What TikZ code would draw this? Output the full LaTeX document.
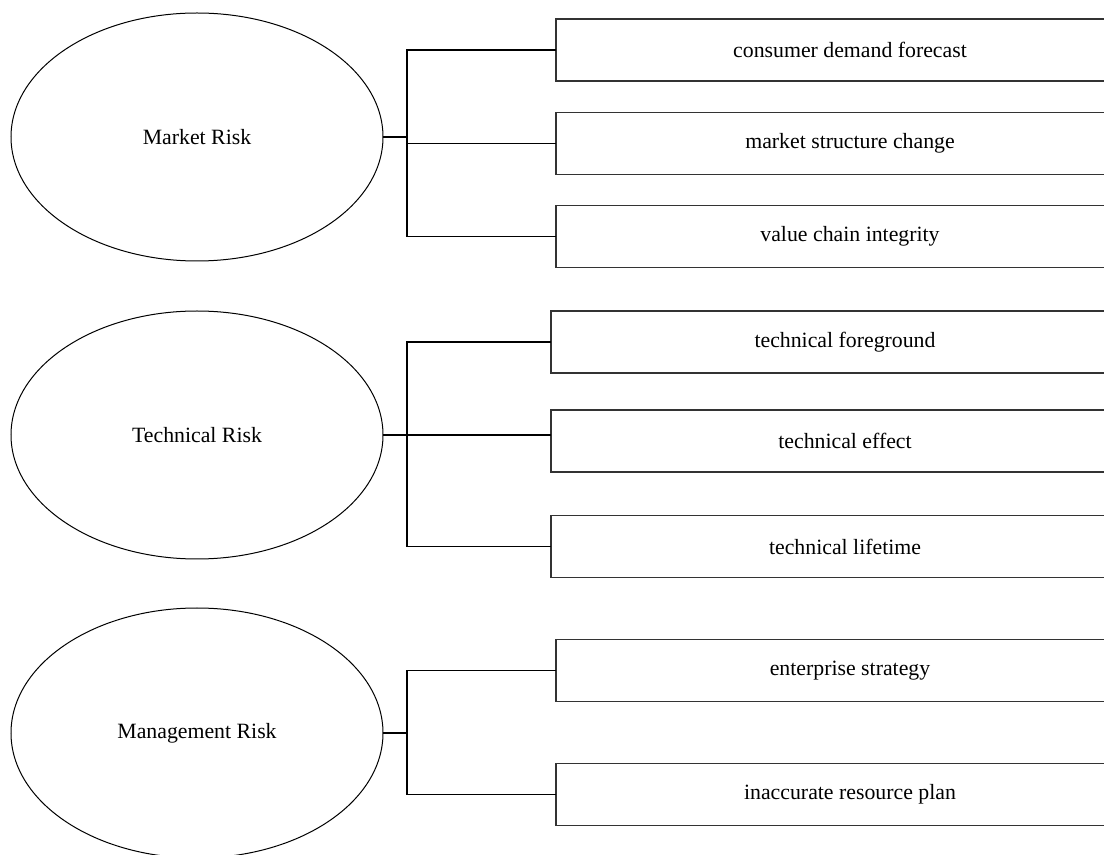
\documentclass[tikz,border=0pt]{standalone}
\usepackage{fontspec}
\setmainfont{Liberation Serif}
\usetikzlibrary{shapes.geometric}

\begin{document}
\begin{tikzpicture}[x=0.5pt,y=-0.5pt,
     risk/.style={draw,ellipse,line width=0.5pt,inner sep=0pt,outer sep=0pt,
       minimum width=186pt,minimum height=124pt,
       font=\fontsize{10.9}{13}\selectfont},
     item/.style={draw=black!80,line width=0.75pt,inner sep=0pt,outer sep=0pt,
       minimum width=294pt,minimum height=31pt,
       font=\fontsize{10.9}{13}\selectfont},
     link/.style={line width=0.75pt}]
    \clip (0,0) rectangle (1104,855);
    % market risk
    \node[risk] (mk) at (197,137) {Market Risk};
    \node[item] (mk1) at (850,50) {consumer demand forecast};
    \node[item] (mk2) at (850,143.5) {market structure change};
    \node[item] (mk3) at (850,236.5) {value chain integrity};
    \coordinate (mkj) at (407,137);
    \draw[link] (mk.east) -- (mkj);
    \draw[link] (mkj) |- (mk1.west);
    \draw[link] (mkj) |- (mk2.west);
    \draw[link] (mkj) |- (mk3.west);
    % technical risk
    \node[risk] (tk) at (197,435) {Technical Risk};
    \node[item] (tk1) at (845,342) {technical foreground};
    \node[item] (tk2) at (845,441) {technical effect};
    \node[item] (tk3) at (845,546.5) {technical lifetime};
    \coordinate (tkj) at (407,435);
    \draw[link] (tk.east) -- (tkj);
    \draw[link] (tkj) |- (tk1.west);
    \draw[link] (tkj) -- (tk2.west |- tkj);
    \draw[link] (tkj) |- (tk3.west);
    % management risk
    \node[risk,minimum height=125pt] (mg) at (197,733) {Management Risk};
    \node[item] (mg1) at (850,670.5) {enterprise strategy};
    \node[item] (mg2) at (850,794.5) {inaccurate resource plan};
    \coordinate (mgj) at (407,733);
    \draw[link] (mg.east) -- (mgj);
    \draw[link] (mgj) |- (mg1.west);
    \draw[link] (mgj) |- (mg2.west);
  \end{tikzpicture}
\end{document}
